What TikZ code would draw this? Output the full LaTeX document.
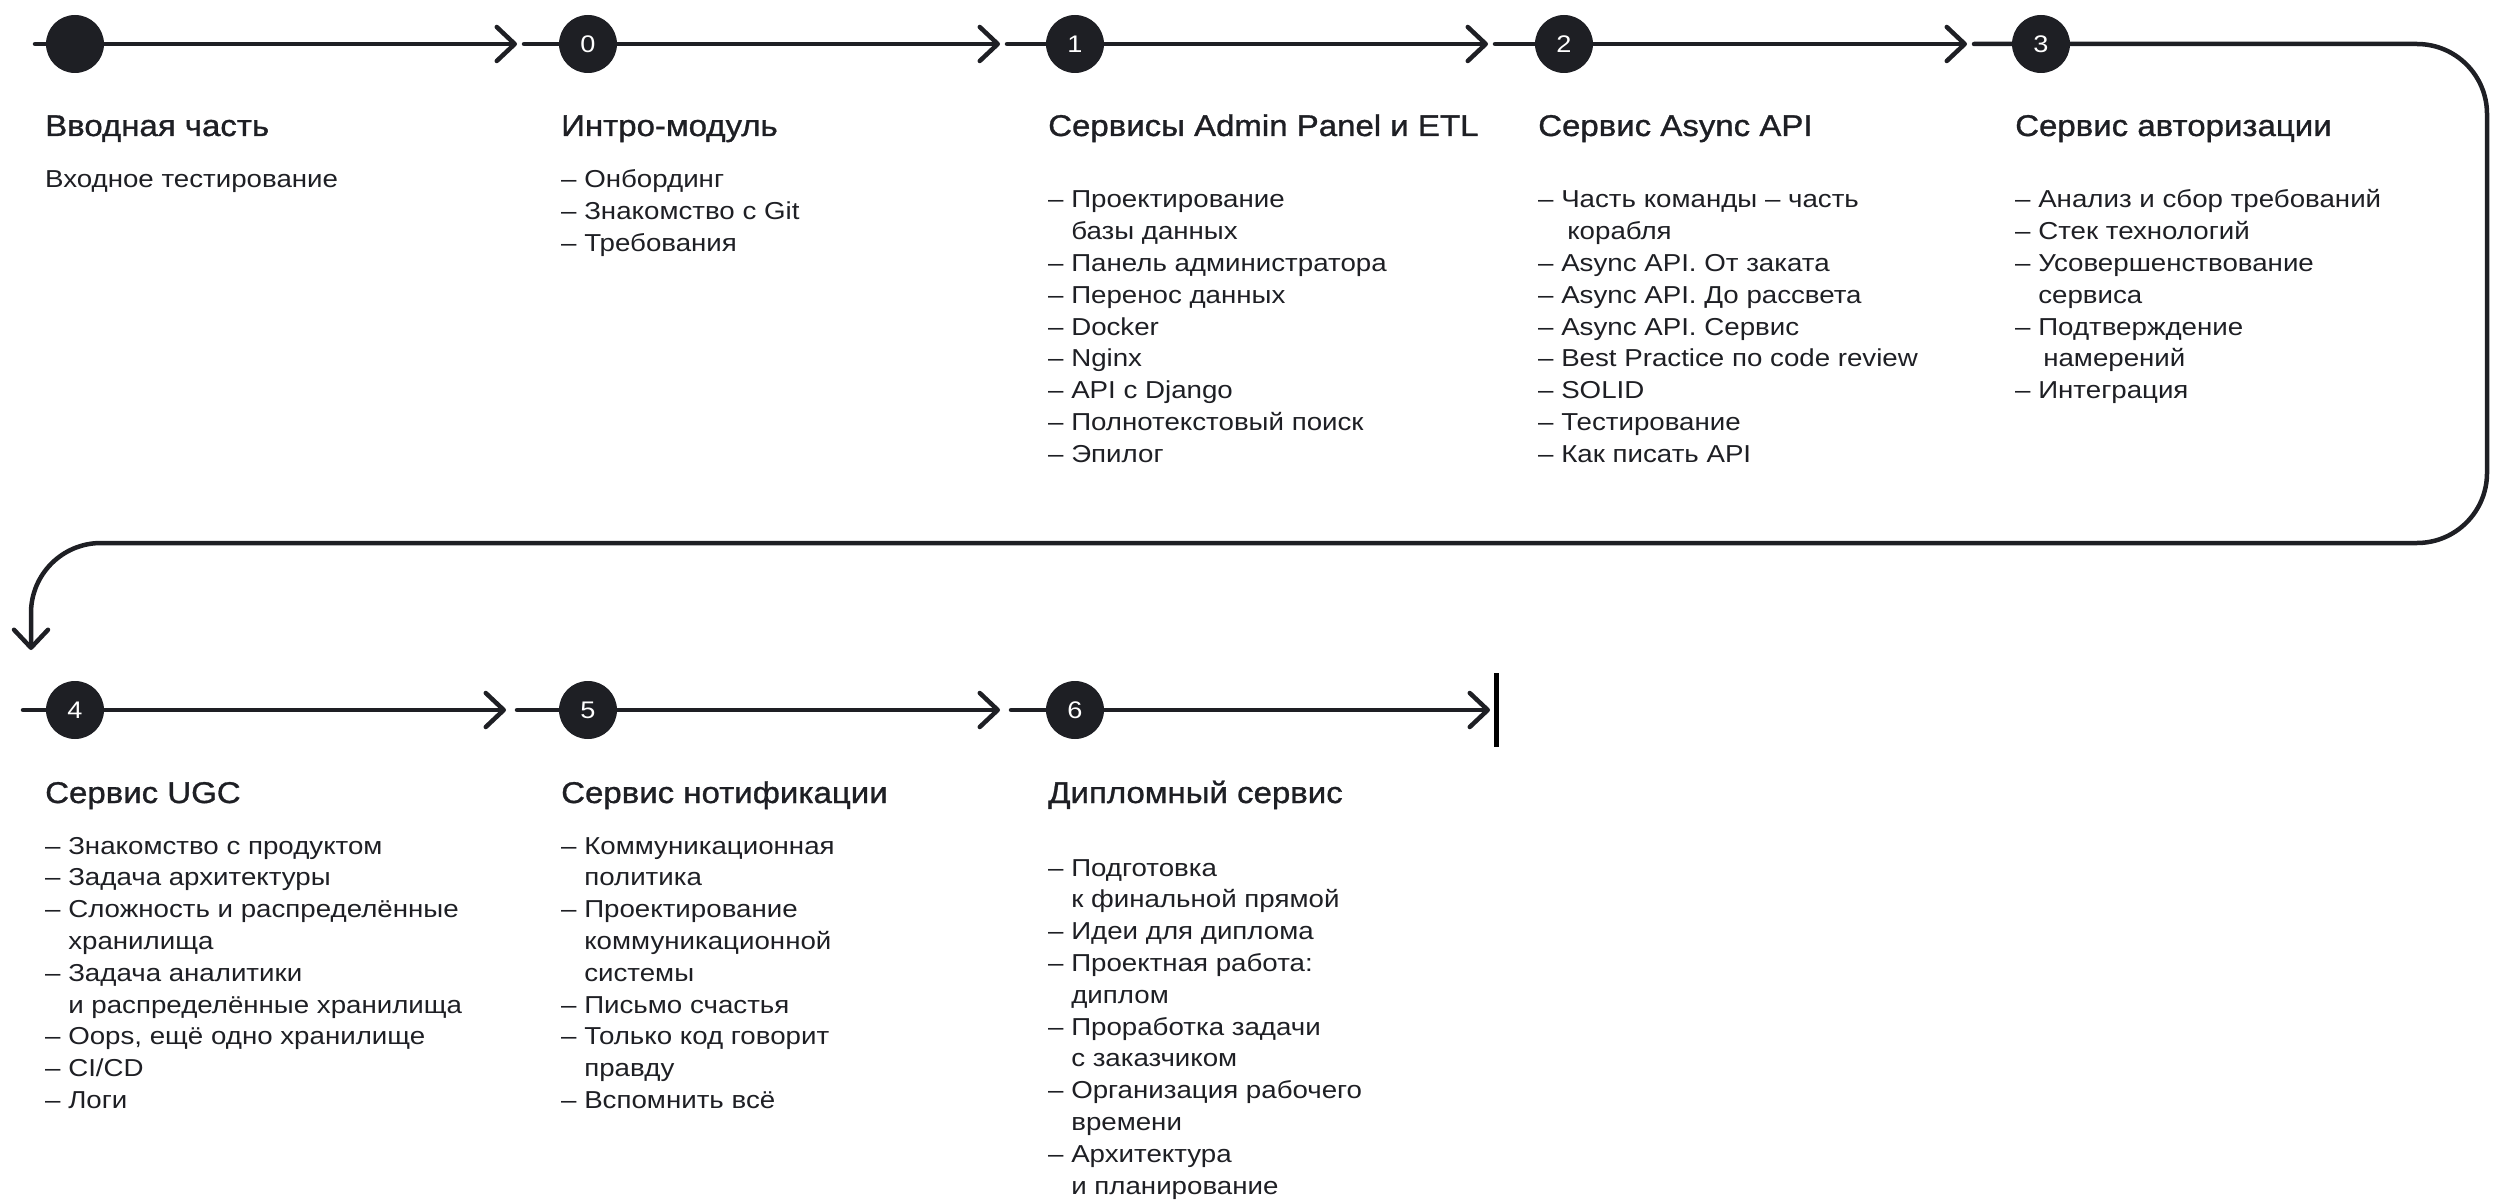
\documentclass[tikz,border=0pt]{standalone}
\usepackage{fontspec}
\setmainfont{Liberation Sans}
\newfontfamily\bodyfont[FakeStretch=1.13]{Liberation Sans}
\newfontfamily\titlefont[FakeStretch=1.1,FakeBold=1]{Liberation Sans}
\usetikzlibrary{arrows.meta}
\definecolor{ink}{HTML}{1E1F24}
\newcommand{\contind}{\phantom{– }}
\newcommand{\itemlines}[1]{\begin{tabular}[t]{@{}l@{}}#1\end{tabular}}
\tikzset{
  conn/.style={draw=ink, line width=4.5pt, line cap=round, line join=round},
  tipped/.style={conn, -{Straight Barb[round,length=18pt,width=34pt]}},
  stepdot/.style={circle, fill=ink, minimum size=58pt, inner sep=0pt, text=white,
    font=\bodyfont\fontsize{24}{24}\selectfont},
  ttl/.style={anchor=base west, inner sep=0pt, text=ink,
    font=\titlefont\fontsize{30}{36}\selectfont},
  body/.style={anchor=base west, inner sep=0pt, text=ink,
    font=\bodyfont\fontsize{24.5}{31.8}\selectfont},
  endbar/.style={draw=black, line width=5pt},
}
\begin{document}
\begin{tikzpicture}[x=1pt,y=-1pt]
\useasboundingbox (0,0) rectangle (2504,1201);
% coordinates of row 1
\coordinate (sS) at (35,44);
\coordinate (t0) at (517,44);
\coordinate (s0) at (524,44);
\coordinate (t1) at (1000,44);
\coordinate (s1) at (1007,44);
\coordinate (t2) at (1488,44);
\coordinate (s2) at (1495,44);
\coordinate (t3) at (1967,44);
\coordinate (s3) at (1974,44);
\coordinate (loopA) at (2487,44);
\coordinate (loopB) at (2487,543);
\coordinate (loopC) at (31,543);
\coordinate (t4) at (31,650);
% coordinates of row 2
\coordinate (s4) at (23,710);
\coordinate (t5) at (506,710);
\coordinate (s5) at (517,710);
\coordinate (t6) at (1000,710);
\coordinate (s6) at (1011,710);
\coordinate (t7) at (1490,710);
\coordinate (barT) at (1496,673);
\coordinate (barB) at (1496,747);

% connectors
\draw[tipped] (sS) -- (t0);
\draw[tipped] (s0) -- (t1);
\draw[tipped] (s1) -- (t2);
\draw[tipped] (s2) -- (t3);
\draw[tipped, rounded corners=70pt] (s3) -- (loopA) -- (loopB) -- (loopC) -- (t4);
\draw[tipped] (s4) -- (t5);
\draw[tipped] (s5) -- (t6);
\draw[tipped] (s6) -- (t7);
\draw[endbar] (barT) -- (barB);

% step circles
\node[stepdot] (cS) at (75,44) {};
\node[stepdot] (c0) at (588,44) {0};
\node[stepdot] (c1) at (1075,44) {1};
\node[stepdot] (c2) at (1564,44) {2};
\node[stepdot] (c3) at (2041,44) {3};
\node[stepdot] (c4) at (75,710) {4};
\node[stepdot] (c5) at (588,710) {5};
\node[stepdot] (c6) at (1075,710) {6};

% row 1 texts
\node[ttl] (hS) at (45,136) {Вводная часть};
\node[body] (bS) at (45,188) {Входное тестирование};

\node[ttl] (h0) at (561,136) {Интро-модуль};
\node[body] (b0) at (561,188) {\itemlines{– Онбординг\\– Знакомство с Git\\– Требования}};

\node[ttl] (h1) at (1048,136) {Сервисы Admin Panel и ETL};
\node[body] (b1) at (1048,208) {\itemlines{– Проектирование\\\contind базы данных\\– Панель администратора\\– Перенос данных\\– Docker\\– Nginx\\– API с Django\\– Полнотекстовый поиск\\– Эпилог}};

\node[ttl] (h2) at (1538,136) {Сервис Async API};
\node[body] (b2) at (1538,208) {\itemlines{– Часть команды – часть\\\contind\hspace{6pt}корабля\\– Async API. От заката\\– Async API. До рассвета\\– Async API. Сервис\\– Best Practice по code review\\– SOLID\\– Тестирование\\– Как писать API}};

\node[ttl] (h3) at (2015,136) {Сервис авторизации};
\node[body] (b3) at (2015,208) {\itemlines{– Анализ и сбор требований\\– Стек технологий\\– Усовершенствование\\\contind сервиса\\– Подтверждение\\\contind\hspace{5pt}намерений\\– Интеграция}};

% row 2 texts
\node[ttl] (h4) at (45,803) {Сервис UGC};
\node[body] (b4) at (45,854) {\itemlines{– Знакомство с продуктом\\– Задача архитектуры\\– Сложность и распределённые\\\contind хранилища\\– Задача аналитики\\\contind и распределённые хранилища\\– Oops, ещё одно хранилище\\– CI/CD\\– Логи}};

\node[ttl] (h5) at (561,803) {Сервис нотификации};
\node[body] (b5) at (561,854) {\itemlines{– Коммуникационная\\\contind политика\\– Проектирование\\\contind коммуникационной\\\contind системы\\– Письмо счастья\\– Только код говорит\\\contind правду\\– Вспомнить всё}};

\node[ttl] (h6) at (1048,803) {Дипломный сервис};
\node[body] (b6) at (1048,876) {\itemlines{– Подготовка\\\contind к финальной прямой\\– Идеи для диплома\\– Проектная работа:\\\contind диплом\\– Проработка задачи\\\contind с заказчиком\\– Организация рабочего\\\contind времени\\– Архитектура\\\contind и планирование}};
\end{tikzpicture}
\end{document}
